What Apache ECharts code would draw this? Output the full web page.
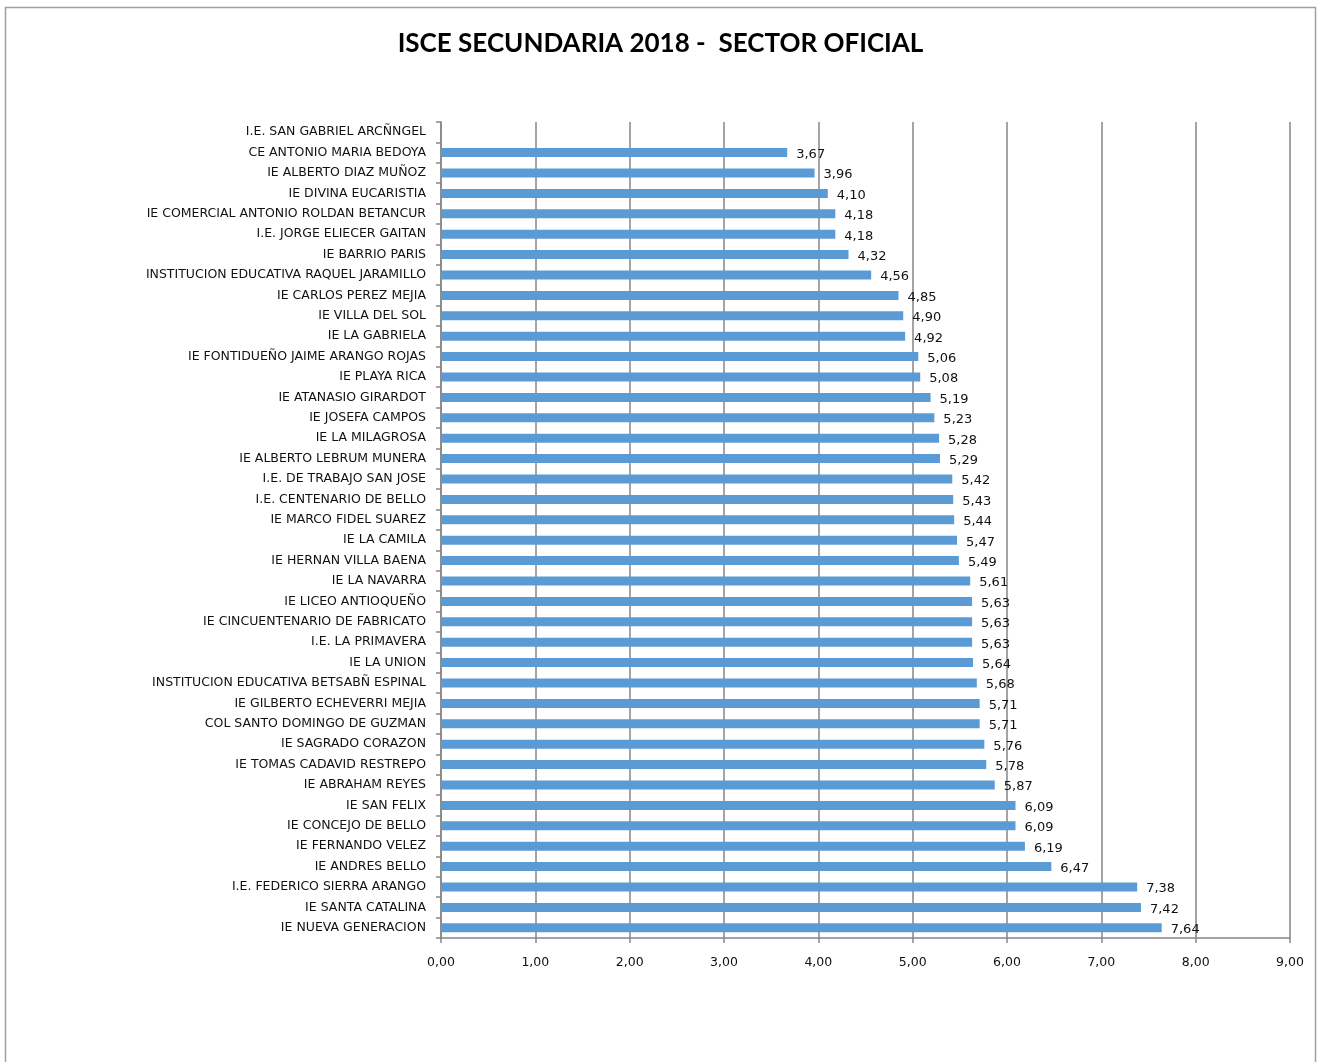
<!DOCTYPE html>
<html><head><meta charset="utf-8">
<script src="https://cdn.jsdelivr.net/npm/echarts@6/dist/echarts.min.js"></script>
<style>html,body{margin:0;padding:0;background:#fff}#c{width:1321px;height:1062px}</style>
</head><body><div id="c"></div>
<script>
const titleText = 'ISCE SECUNDARIA 2018 -  SECTOR OFICIAL';
const categories = [
  'I.E. SAN GABRIEL ARCÑNGEL','CE ANTONIO MARIA BEDOYA','IE ALBERTO DIAZ MUÑOZ','IE DIVINA EUCARISTIA',
  'IE COMERCIAL ANTONIO ROLDAN BETANCUR','I.E. JORGE ELIECER GAITAN','IE BARRIO PARIS',
  'INSTITUCION EDUCATIVA RAQUEL JARAMILLO','IE CARLOS PEREZ MEJIA','IE VILLA DEL SOL','IE LA GABRIELA',
  'IE FONTIDUEÑO JAIME ARANGO ROJAS','IE PLAYA RICA','IE ATANASIO GIRARDOT','IE JOSEFA CAMPOS',
  'IE LA MILAGROSA','IE ALBERTO LEBRUM MUNERA','I.E. DE TRABAJO SAN JOSE','I.E. CENTENARIO DE BELLO',
  'IE MARCO FIDEL SUAREZ','IE LA CAMILA','IE HERNAN VILLA BAENA','IE LA NAVARRA','IE LICEO ANTIOQUEÑO',
  'IE CINCUENTENARIO DE FABRICATO','I.E. LA PRIMAVERA','IE LA UNION','INSTITUCION EDUCATIVA BETSABÑ ESPINAL',
  'IE GILBERTO ECHEVERRI MEJIA','COL SANTO DOMINGO DE GUZMAN','IE SAGRADO CORAZON','IE TOMAS CADAVID RESTREPO',
  'IE ABRAHAM REYES','IE SAN FELIX','IE CONCEJO DE BELLO','IE FERNANDO VELEZ','IE ANDRES BELLO',
  'I.E. FEDERICO SIERRA ARANGO','IE SANTA CATALINA','IE NUEVA GENERACION'
];
const values = [
  null,3.67,3.96,4.10,4.18,4.18,4.32,4.56,4.85,4.90,4.92,5.06,5.08,5.19,5.23,5.28,5.29,5.42,5.43,5.44,
  5.47,5.49,5.61,5.63,5.63,5.63,5.64,5.68,5.71,5.71,5.76,5.78,5.87,6.09,6.09,6.19,6.47,7.38,7.42,7.64
];
const xMin = 0, xMax = 9, xStep = 1;

const fmt = v => Number(v).toFixed(2).replace('.', ',');
const font = "'DejaVu Sans',sans-serif";
const chart = echarts.init(document.getElementById('c'));
chart.setOption({
  animation: false,
  backgroundColor: '#fff',
  title: {
    text: titleText, left: 'center', top: 26,
    textStyle: { fontFamily: "Lato, 'Open Sans', sans-serif", fontWeight: 'bold', fontSize: 26, color: '#000' }
  },
  graphic: [{
    type: 'rect', shape: { x: 5.5, y: 7.5, width: 1310, height: 1070 },
    style: { fill: 'none', stroke: '#a0a0a0', lineWidth: 1.5 }, silent: true
  }],
  grid: { left: 441, right: 31, top: 122, bottom: 124 },
  xAxis: {
    type: 'value', min: xMin, max: xMax, interval: xStep,
    axisLine: { show: true, lineStyle: { color: '#868686', width: 1.5 } },
    axisTick: { show: true, length: 5, lineStyle: { color: '#868686', width: 1.5 } },
    splitLine: { show: true, lineStyle: { color: '#868686', width: 1.5 } },
    axisLabel: { formatter: v => fmt(v), fontFamily: font, fontSize: 12.5, color: '#111', margin: 18 }
  },
  yAxis: {
    type: 'category', data: categories, inverse: true,
    axisLine: { show: true, lineStyle: { color: '#868686', width: 1.5 } },
    axisTick: { show: true, length: 5, inside: false, lineStyle: { color: '#868686', width: 1.5 } },
    axisLabel: { fontFamily: font, fontSize: 12.5, color: '#111', margin: 15, interval: 0 }
  },
  series: [{
    type: 'bar', data: values, barWidth: 9,
    itemStyle: { color: '#5B9BD5' },
    label: {
      show: true, position: 'right', distance: 9, offset: [0, 2],
      formatter: p => p.value == null ? '' : fmt(p.value),
      fontFamily: font, fontSize: 13, color: '#111'
    }
  }]
});
</script></body></html>
